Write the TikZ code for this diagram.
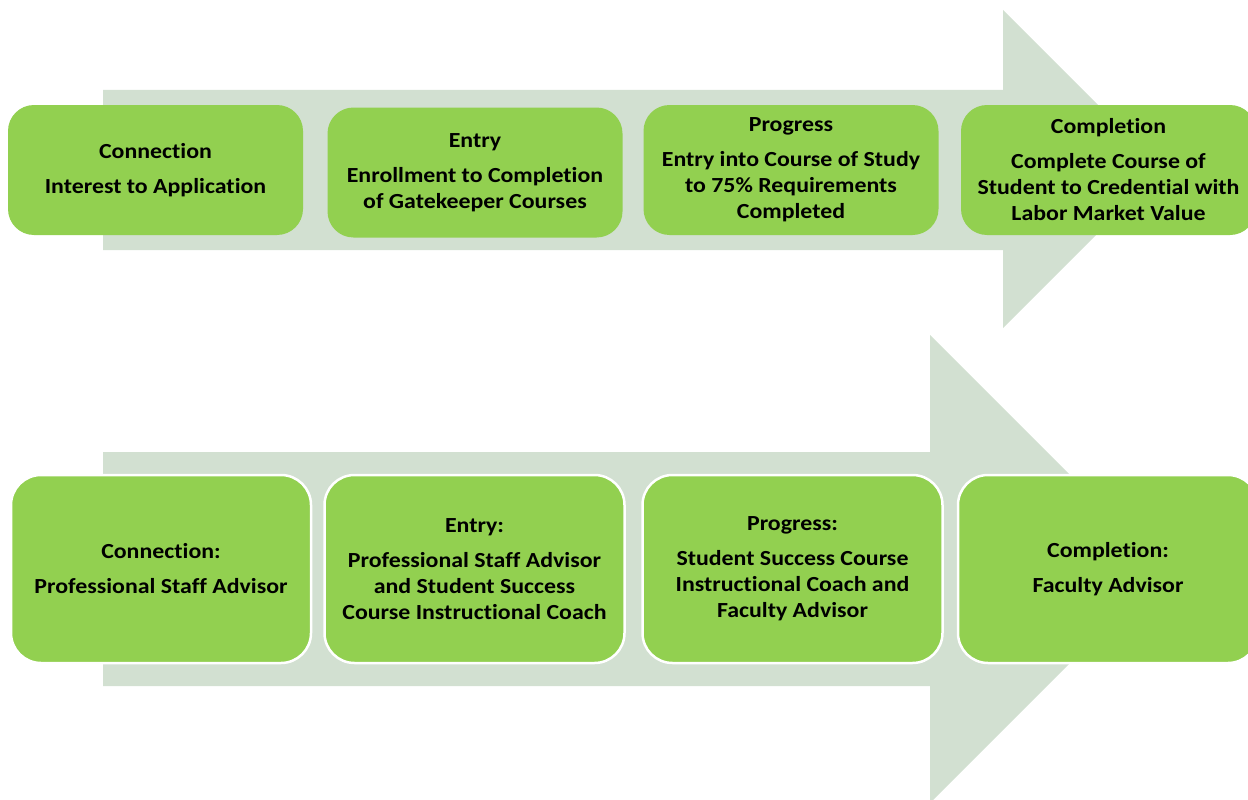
\documentclass[tikz,border=0pt]{standalone}
\usepackage{fontspec}
\setmainfont{Carlito}[FakeStretch=1.11, Ligatures=NoCommon]
\definecolor{arrowgray}{HTML}{D2E0D1}
\definecolor{boxgreen}{HTML}{92D050}
\begin{document}
\begin{tikzpicture}[x=1pt,y=-1pt,
  stagebox/.style={fill=boxgreen, rounded corners=26pt, align=center, inner sep=0pt,
    font=\fontsize{21.5}{26}\selectfont\bfseries, text=black},
  topbox/.style={stagebox, minimum width=295pt, minimum height=130pt},
  botbox/.style={stagebox, draw=white, line width=2.5pt, rounded corners=30pt, minimum width=300pt, minimum height=188pt},
  bigarrow/.style={fill=arrowgray, draw=none}]
\useasboundingbox (0,0) rectangle (1248,800);
\clip (0,0) rectangle (1248,800);
% arrows
\fill[bigarrow] (103,90) -- (1003,90) -- (1003,10) -- (1162,169) -- (1003,328) -- (1003,250) -- (103,250) -- cycle;
\fill[bigarrow] (103,452) -- (930,452) -- (930,335) -- (1164,569) -- (930,803) -- (930,686) -- (103,686) -- cycle;
% top row
\node[topbox] (t1) at (155.5,170) {Connection\\[9pt]Interest to Application};
\node[topbox] (t2) at (475,172.5) {Entry\\[9pt]Enrollment to Completion\\of Gatekeeper Courses};
\node[topbox] (t3) at (791,170) {Progress\\[9pt]Entry into Course of Study\\to 75\% Requirements\\Completed};
\node[topbox] (t4) at (1108.5,170) {Completion\\[9pt]Complete Course of\\Student to Credential with\\Labor Market Value};
% bottom row
\node[botbox] (b1) at (161,569) {Connection:\\[9pt]Professional Staff Advisor};
\node[botbox] (b2) at (474.5,569) {Entry:\\[9pt]Professional Staff Advisor\\and Student Success\\Course Instructional Coach};
\node[botbox] (b3) at (792.5,569) {Progress:\\[9pt]Student Success Course\\Instructional Coach and\\Faculty Advisor};
\node[botbox] (b4) at (1108,569) {Completion:\\[9pt]Faculty Advisor};
\end{tikzpicture}
\end{document}
